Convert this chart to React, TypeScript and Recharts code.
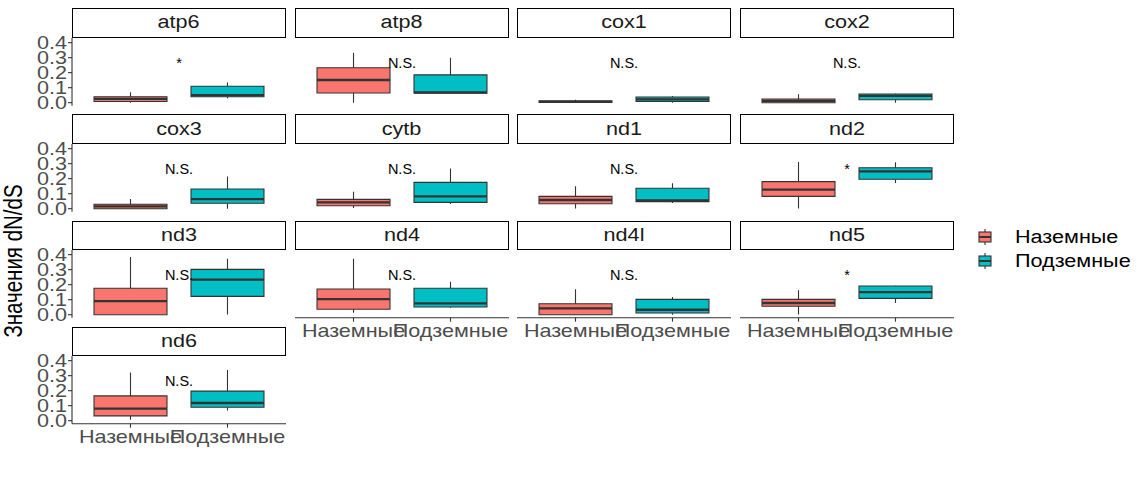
import { BarChart, Bar, XAxis, YAxis, ReferenceDot } from "recharts";

// группы и цвета как в ggplot
const groups = ["Наземные", "Подземные"];
const groupColors = ["#F8766D", "#00BFC4"];

const genes = ["atp6", "atp8", "cox1", "cox2", "cox3", "cytb", "nd1", "nd2", "nd3", "nd4", "nd4l", "nd5", "nd6"];
const signif = ["*", "N.S.", "N.S.", "N.S.", "N.S.", "N.S.", "N.S.", "*", "N.S.", "N.S.", "N.S.", "*", "N.S."];

// [min, q1, median, q3, max] для каждого гена
const landStats = [
  [0.0, 0.008, 0.025, 0.04, 0.07],
  [0.0, 0.065, 0.151, 0.233, 0.333],
  [0.0, 0.002, 0.006, 0.012, 0.02],
  [0.0, 0.0, 0.012, 0.025, 0.056],
  [0.0, 0.0, 0.015, 0.03, 0.065],
  [0.004, 0.02, 0.042, 0.062, 0.113],
  [0.002, 0.033, 0.058, 0.082, 0.149],
  [0.002, 0.082, 0.127, 0.18, 0.311],
  [0.0, 0.0, 0.091, 0.176, 0.384],
  [0.013, 0.036, 0.104, 0.171, 0.373],
  [0.0, 0.0, 0.042, 0.073, 0.169],
  [0.002, 0.056, 0.078, 0.102, 0.162],
  [0.006, 0.032, 0.081, 0.165, 0.321],
];
const caveStats = [
  [0.03, 0.04, 0.05, 0.11, 0.135],
  [0.063, 0.063, 0.069, 0.185, 0.3],
  [0.0, 0.008, 0.022, 0.038, 0.045],
  [0.0, 0.02, 0.045, 0.058, 0.062],
  [0.0, 0.036, 0.064, 0.131, 0.215],
  [0.031, 0.042, 0.082, 0.175, 0.267],
  [0.038, 0.047, 0.056, 0.136, 0.169],
  [0.171, 0.196, 0.249, 0.273, 0.309],
  [0.002, 0.122, 0.233, 0.302, 0.373],
  [0.047, 0.051, 0.076, 0.176, 0.22],
  [0.0, 0.011, 0.033, 0.102, 0.118],
  [0.078, 0.109, 0.151, 0.191, 0.193],
  [0.068, 0.09, 0.118, 0.197, 0.338],
];
const yTicks = [0, 0.1, 0.2, 0.3, 0.4];
const labelY = 0.265;

const FONT = '"Liberation Sans", Arial, sans-serif';
const STRETCH = 1.2; // текст в оригинале немного растянут по горизонтали
const COLS = 4;
const PANEL_W = 214;
const STRIP_H = 29.5;
const PLOT_H = 67.7;
const YAXIS_W = 50;
const XAXIS_H = 30;
const PAD = 8; // запас сверху/снизу, чтобы подписи делений не обрезались
const EDGE = "#333333";
const colLeft = (c: number) => 72 + c * 222.7;
const rowTop = (r: number) => 8 + r * 106.3;

const toRows = (g: number) =>
  [landStats[g], caveStats[g]].map((s, i) => ({
    group: groups[i],
    color: groupColors[i],
    base: s[0],
    lw: s[1] - s[0],
    lb: s[2] - s[1],
    ub: s[3] - s[2],
    uw: s[4] - s[3],
  }));

const Empty = () => <g />;

const Whisker = (p: any) => {
  const cx = p.x + p.width / 2;
  return <line x1={cx} x2={cx} y1={p.y} y2={p.y + p.height} stroke={EDGE} strokeWidth={1.1} />;
};

const LowerBox = (p: any) => (
  <g>
    <rect x={p.x} y={p.y} width={p.width} height={p.height} fill={p.payload.color} />
    <path
      d={`M${p.x},${p.y}V${p.y + p.height}H${p.x + p.width}V${p.y}`}
      fill="none"
      stroke={EDGE}
      strokeWidth={1.1}
    />
  </g>
);

const UpperBox = (p: any) => (
  <g>
    <rect x={p.x} y={p.y} width={p.width} height={p.height} fill={p.payload.color} />
    <path
      d={`M${p.x},${p.y + p.height}V${p.y}H${p.x + p.width}V${p.y + p.height}`}
      fill="none"
      stroke={EDGE}
      strokeWidth={1.1}
    />
    {/* медиана */}
    <line x1={p.x} x2={p.x + p.width} y1={p.y + p.height} y2={p.y + p.height} stroke={EDGE} strokeWidth={2.3} />
  </g>
);

const YTick = ({ x, y, payload }: any) => (
  <text
    transform={`translate(${x},${y}) scale(${STRETCH},1)`}
    textAnchor="end"
    dy="0.355em"
    fontSize={18}
    fill="#4D4D4D"
    fontFamily={FONT}
  >
    {Number(payload.value).toFixed(1)}
  </text>
);

const XTick = ({ x, y, payload }: any) => (
  <text
    transform={`translate(${x},${y}) scale(${STRETCH},1)`}
    textAnchor="middle"
    dy="0.71em"
    fontSize={18}
    fill="#4D4D4D"
    fontFamily={FONT}
  >
    {payload.value}
  </text>
);

const Panel = ({ g }: { g: number }) => {
  const r = Math.floor(g / COLS);
  const c = g % COLS;
  const hasY = c === 0;
  const hasX = g + COLS >= genes.length;
  const left = colLeft(c);
  const top = rowTop(r);
  const data = toRows(g);

  return (
    <>
      <div
        style={{
          position: "absolute",
          left,
          top,
          width: PANEL_W,
          height: STRIP_H,
          border: "1px solid #000",
          boxSizing: "border-box",
          display: "flex",
          alignItems: "center",
          justifyContent: "center",
          fontSize: 18,
          color: "#1A1A1A",
        }}
      >
        <span style={{ display: "inline-block", transform: `scaleX(${STRETCH})` }}>{genes[g]}</span>
      </div>
      <div style={{ position: "absolute", left: hasY ? left - YAXIS_W : left, top: top + STRIP_H - PAD }}>
        <BarChart
          width={PANEL_W + (hasY ? YAXIS_W : 0)}
          height={PLOT_H + PAD + (hasX ? XAXIS_H : PAD)}
          data={data}
          margin={{ top: PAD, right: 0, bottom: hasX ? 0 : PAD, left: 0 }}
          barSize={73}
        >
          <XAxis
            dataKey="group"
            padding={{ left: 10, right: 10 }}
            hide={!hasX}
            height={XAXIS_H}
            interval={0}
            axisLine={{ stroke: EDGE, strokeWidth: 1.1 }}
            tickLine={{ stroke: EDGE, strokeWidth: 1.1 }}
            tickSize={4}
            tickMargin={3}
            tick={<XTick />}
          />
          <XAxis xAxisId="lab" type="number" domain={[0, 1]} hide />
          <YAxis
            type="number"
            domain={[-0.02, 0.431]}
            allowDataOverflow
            ticks={yTicks}
            interval={0}
            hide={!hasY}
            width={YAXIS_W}
            axisLine={{ stroke: EDGE, strokeWidth: 1.1 }}
            tickLine={{ stroke: EDGE, strokeWidth: 1.1 }}
            tickSize={4}
            tickMargin={1}
            tick={<YTick />}
          />
          <Bar dataKey="base" stackId="b" shape={Empty} isAnimationActive={false} />
          <Bar dataKey="lw" stackId="b" shape={Whisker} isAnimationActive={false} />
          <Bar dataKey="lb" stackId="b" shape={LowerBox} isAnimationActive={false} />
          <Bar dataKey="ub" stackId="b" shape={UpperBox} isAnimationActive={false} />
          <Bar dataKey="uw" stackId="b" shape={Whisker} isAnimationActive={false} />
          <ReferenceDot
            xAxisId="lab"
            x={0.5}
            y={labelY}
            r={0}
            stroke="none"
            label={{ value: signif[g], position: "center", fill: "#000", fontSize: 14.5, fontFamily: FONT }}
          />
        </BarChart>
      </div>
    </>
  );
};

const FigureLegend = () => (
  <div style={{ position: "absolute", left: 975, top: 225 }}>
    {groups.map((name, i) => (
      <div key={name} style={{ display: "flex", alignItems: "center", height: 24 }}>
        <svg width={20} height={24}>
          <line x1={10} x2={10} y1={4} y2={20} stroke={EDGE} strokeWidth={1.1} />
          <rect x={4} y={7} width={12} height={10} fill={groupColors[i]} stroke={EDGE} strokeWidth={1.1} />
          <line x1={4} x2={16} y1={12} y2={12} stroke={EDGE} strokeWidth={2} />
        </svg>
        <span
          style={{
            marginLeft: 20,
            fontSize: 18,
            color: "#000",
            display: "inline-block",
            transform: `scaleX(${STRETCH})`,
            transformOrigin: "left center",
          }}
        >
          {name}
        </span>
      </div>
    ))}
  </div>
);

export default function App() {
  return (
    <div
      style={{
        position: "absolute",
        left: 0,
        top: 0,
        width: 1143,
        height: 485,
        background: "#fff",
        fontFamily: FONT,
      }}
    >
      <svg style={{ position: "absolute", left: 0, top: 0 }} width={40} height={485}>
        <text
          transform="translate(22,261) scale(1.3,1) rotate(-90)"
          textAnchor="middle"
          fontSize={20.5}
          fill="#000"
          fontFamily={FONT}
        >
          Значения dN/dS
        </text>
      </svg>
      {genes.map((_, g) => (
        <Panel key={genes[g]} g={g} />
      ))}
      <FigureLegend />
    </div>
  );
}
